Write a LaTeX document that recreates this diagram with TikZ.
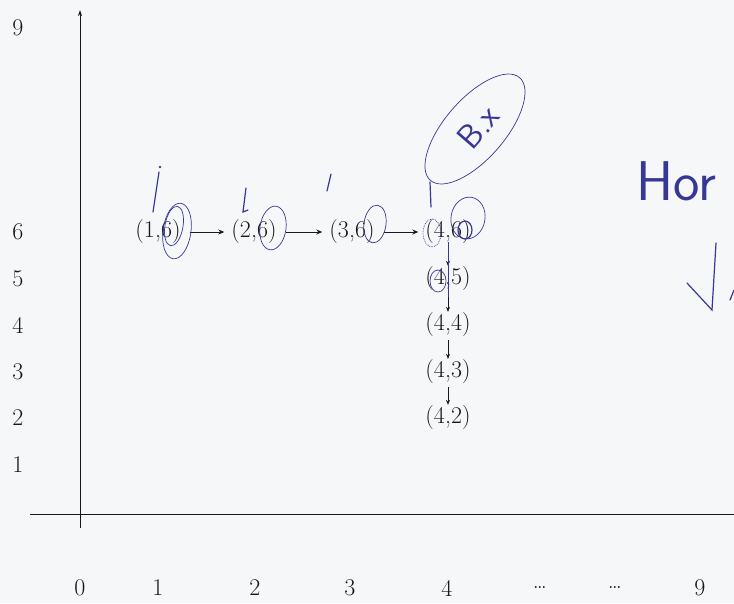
\documentclass[tikz,border=0pt]{standalone}
\usepackage{fontspec}
\usetikzlibrary{arrows.meta}
\definecolor{paper}{RGB}{246,247,249}
\definecolor{ink}{RGB}{25,25,25}
\definecolor{pen}{RGB}{55,55,150}
\begin{document}
\begin{tikzpicture}[x=1pt,y=-1pt,
  lbl/.style={font=\fontsize{24}{28}\selectfont\addfontfeatures{FakeBold=0.6}, text=ink, inner sep=1pt},
  pt/.style={font=\fontsize{24}{28}\selectfont\addfontfeatures{FakeBold=0.6}, text=ink, inner sep=1pt},
  axis/.style={draw=ink, line width=1pt},
  harr/.style={draw=ink, line width=0.9pt, shorten <=8pt, shorten >=6pt, -{Stealth[length=6pt,width=5pt]}},
  varr/.style={draw=ink, line width=0.5pt, shorten <=2pt, -{Stealth[length=5pt,width=4pt]}},
  hand/.style={draw=pen, line width=1.2pt, line cap=round},
  handthin/.style={draw=pen, line width=0.7pt},
  handtxt/.style={text=pen}]
\fill[paper] (0,0) rectangle (734,603);
\useasboundingbox (0,0) rectangle (734,603);
\clip (0,0) rectangle (734,603);
% axes
\coordinate (ybot) at (80,528);
\coordinate (ytop) at (80,10);
\coordinate (xl) at (30,514);
\coordinate (xr) at (736,514);
\draw[axis, -{Stealth[length=6pt,width=4pt]}] (ybot) -- (ytop);
\draw[axis] (xl) -- (xr);
% y labels
\node[lbl] (y9) at (18,28) {9};
\node[lbl] (y6) at (18,232) {6};
\node[lbl] (y5) at (18,279) {5};
\node[lbl] (y4) at (18,325) {4};
\node[lbl] (y3) at (18,372) {3};
\node[lbl] (y2) at (18,418) {2};
\node[lbl] (y1) at (18,465) {1};
% x labels
\node[lbl] (x0) at (80,588) {0};
\node[lbl] (x1) at (158,588) {1};
\node[lbl] (x2) at (255,588) {2};
\node[lbl] (x3) at (350,588) {3};
\node[lbl] (x4) at (447,588) {4};
\node[lbl] (xd1) at (540,588) {\dots};
\node[lbl] (xd2) at (615,588) {\dots};
\node[lbl] (x9) at (700,588) {9};
% path nodes
\node[pt] (p16) at (158,232) {(1,6)};
\node[pt] (p26) at (254,232) {(2,6)};
\node[pt] (p36) at (352,232) {(3,6)};
\node[pt] (p46) at (448,232) {(4,6)};
\node[pt] (p45) at (448,279) {(4,5)};
\node[pt] (p44) at (448,325) {(4,4)};
\node[pt] (p43) at (448,372) {(4,3)};
\node[pt] (p42) at (448,418) {(4,2)};
\draw[harr] (p16) -- (p26);
\draw[harr] (p26) -- (p36);
\draw[harr] (p36) -- (p46);
\draw[varr] (p46.south) -- (p45.north);
\draw[varr] (p45.south) -- (p44.north);
\draw[varr] (p44.south) -- (p43.north);
\draw[varr] (p43.south) -- (p42.north);
% handwritten annotations
\draw[hand] (153,212) -- (159,172);
\fill[pen] (160,167) circle (1.4);
\draw[hand] (246,188) -- (243,212) -- (248,210);
\draw[hand] (331,174) -- (327,191);
\draw[handthin, rotate around={-8:(177,231)}] (177,231) ellipse [x radius=14, y radius=28];
\draw[handthin, rotate around={-10:(174,226)}] (174,226) ellipse [x radius=9, y radius=20];
\draw[handthin, rotate around={-8:(273,228)}] (273,228) ellipse [x radius=13, y radius=22];
\draw[handthin, rotate around={-8:(375,224)}] (375,224) ellipse [x radius=11, y radius=19];
\draw[handthin, rotate around={-10:(468,218)}] (468,218) ellipse [x radius=17, y radius=21];
\draw[hand] (465,230) circle [x radius=7, y radius=9];
\draw[handthin, densely dotted] (432,233) ellipse [x radius=9, y radius=14];
\draw[handthin] (438,281) circle [x radius=8, y radius=11];
\draw[handthin] (448,242) -- (448,297);
% big ellipse with B.x
\draw[handthin, rotate around={49:(475,129)}] (475,129) ellipse [x radius=68, y radius=30];
\draw[hand] (430,182) -- (431,207);
\node[handtxt, font=\fontsize{34}{34}\selectfont\sffamily, rotate=49] (bx) at (478,127) {B.x};
% Hor and V at right edge
\node[handtxt, font=\fontsize{56}{56}\selectfont\sffamily, anchor=base west, inner sep=0pt] (hor) at (636,200) {Hor};
\draw[hand] (687,283) -- (712,310) -- (716,243);
\draw[hand] (730,300) -- (734,290);
\end{tikzpicture}
\end{document}
